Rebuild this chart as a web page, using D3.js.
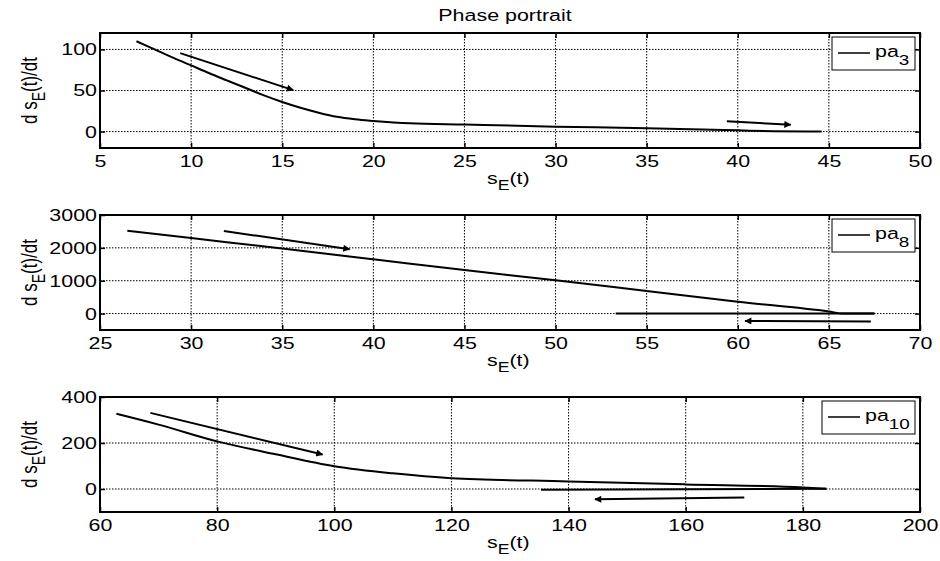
<!DOCTYPE html>
<html>
<head>
<meta charset="utf-8" />
<style>
  body { margin: 0; background: #fff; }
  svg text { font-family: Arial, "Liberation Sans", sans-serif; fill: #000; }
  .grid line { stroke: #000; stroke-width: 1; stroke-dasharray: 1.5 1.5; }
  .curve { fill: none; stroke: #000; stroke-width: 2; }
</style>
</head>
<body>
<div id="chart"></div>
<script src="https://cdn.jsdelivr.net/npm/d3@7"></script>
<script>
// panel 1 : pa3
var pa3X = [7, 8, 9, 10, 11, 12, 13, 14, 15, 16, 17, 18, 19, 20, 22, 25, 30, 35, 40, 42, 44.6];
var pa3Y = [110, 100, 90, 80.5, 71, 62, 53, 44, 36, 29, 23, 18, 15, 13, 10, 8.5, 6, 4, 1.5, 0.5, 0];
var pa3Arrows = [[[9.4, 95.5], [15.6, 50.5]], [[39.4, 12.5], [42.9, 8.2]]];
var pa3XTicks = [5, 10, 15, 20, 25, 30, 35, 40, 45, 50];
var pa3YTicks = [0, 50, 100];

// panel 2 : pa8
var pa8X = [26.5, 30, 35, 40, 45, 50, 55, 60, 65, 65.8, 67.5, 53.3];
var pa8Y = [2523, 2298, 1978, 1652, 1323, 1015, 686, 360, 62, 0, 0, 0];
var pa8Arrows = [[[31.8, 2513], [38.7, 1960]], [[67.3, -240], [60.4, -225]]];
var pa8XTicks = [25, 30, 35, 40, 45, 50, 55, 60, 65, 70];
var pa8YTicks = [0, 1000, 2000, 3000];

// panel 3 : pa10
var pa10X = [62.8, 70, 80, 90, 100, 110, 120, 140, 160, 180, 184, 135.3];
var pa10Y = [327, 280, 207, 151, 99, 68, 47, 33, 20, 7, 1, -3];
var pa10Arrows = [[[68.6, 331], [98, 150]], [[170, -37], [144.5, -45]]];
var pa10XTicks = [60, 80, 100, 120, 140, 160, 180, 200];
var pa10YTicks = [0, 200, 400];

var panels = [
  { xs: pa3X, ys: pa3Y, arrows: pa3Arrows, xd: [5, 50], yd: [-20, 120], xt: pa3XTicks, yt: pa3YTicks, top: 33, bottom: 148, sub: "3", legW: 83 },
  { xs: pa8X, ys: pa8Y, arrows: pa8Arrows, xd: [25, 70], yd: [-500, 3000], xt: pa8XTicks, yt: pa8YTicks, top: 215, bottom: 330, sub: "8", legW: 83 },
  { xs: pa10X, ys: pa10Y, arrows: pa10Arrows, xd: [60, 200], yd: [-100, 400], xt: pa10XTicks, yt: pa10YTicks, top: 397, bottom: 512, sub: "10", legW: 93 }
];

var width = 940, height = 561;
var left = 100, right = 920;
var S = 1.26; // the picture's text is stretched sideways

// squeeze x then stretch the glyphs so anchors stay in place
function stretch(sel) {
  sel.each(function() {
    var t = d3.select(this);
    var x0 = +(t.attr('x') || 0);
    t.attr('x', x0 / S);
    var tr = t.attr('transform') || '';
    t.attr('transform', tr + ' scale(' + S + ',1)');
  });
}

var svg = d3.select('#chart').append('svg')
  .attr('width', width)
  .attr('height', height);

svg.append('defs').append('marker')
  .attr('id', 'head')
  .attr('viewBox', '0 0 10 10')
  .attr('refX', 9).attr('refY', 5)
  .attr('markerWidth', 11).attr('markerHeight', 7)
  .attr('markerUnits', 'userSpaceOnUse')
  .attr('orient', 'auto')
  .append('path').attr('d', 'M0,0 L10,5 L0,10 Z').attr('fill', '#000');

svg.append('text')
  .attr('x', 505).attr('y', 21)
  .attr('text-anchor', 'middle')
  .style('font-size', '17px')
  .text('Phase portrait')
  .call(stretch);

panels.forEach(function(p) {
  var x = d3.scaleLinear().domain(p.xd).range([left, right]);
  var y = d3.scaleLinear().domain(p.yd).range([p.bottom, p.top]);
  var g = svg.append('g');

  // grid
  var grid = g.append('g').attr('class', 'grid');
  grid.selectAll('.gx').data(p.xt.slice(1, -1)).enter().append('line')
    .attr('x1', function(d) { return x(d); }).attr('x2', function(d) { return x(d); })
    .attr('y1', p.top).attr('y2', p.bottom);
  grid.selectAll('.gy').data(p.yt.filter(function(d) { return y(d) > p.top + 1; })).enter().append('line')
    .attr('x1', left).attr('x2', right)
    .attr('y1', function(d) { return y(d); }).attr('y2', function(d) { return y(d); });

  // axes, ticks inward on all sides
  var ax = g.append('g').attr('transform', 'translate(0,' + p.bottom + ')')
    .call(d3.axisBottom(x).tickValues(p.xt).tickSize(-5).tickPadding(7).tickSizeOuter(0).tickFormat(d3.format('d')));
  var axT = g.append('g').attr('transform', 'translate(0,' + p.top + ')')
    .call(d3.axisTop(x).tickValues(p.xt).tickSize(-5).tickFormat('').tickSizeOuter(0));
  var ay = g.append('g').attr('transform', 'translate(' + left + ',0)')
    .call(d3.axisLeft(y).tickValues(p.yt).tickSize(-5).tickPadding(3).tickSizeOuter(0).tickFormat(d3.format('d')));
  var ayR = g.append('g').attr('transform', 'translate(' + right + ',0)')
    .call(d3.axisRight(y).tickValues(p.yt).tickSize(-5).tickFormat('').tickSizeOuter(0));
  [ax, axT, ay, ayR].forEach(function(a) {
    a.select('.domain').remove();
    a.selectAll('line').attr('stroke', '#000').attr('stroke-width', 1.5);
    a.selectAll('text').style('font-size', '17px').attr('fill', '#000')
      .attr('font-family', 'Arial, "Liberation Sans", sans-serif')
      .call(stretch);
  });

  g.append('rect')
    .attr('x', left).attr('y', p.top)
    .attr('width', right - left).attr('height', p.bottom - p.top)
    .attr('fill', 'none').attr('stroke', '#000').attr('stroke-width', 2);

  // trajectory: forward part smooth, return leg straight
  var line = d3.line()
    .x(function(d) { return x(d[0]); })
    .y(function(d) { return y(d[1]); })
    .curve(d3.curveMonotoneX);
  var pts = p.xs.map(function(v, i) { return [v, p.ys[i]]; });
  var fwd = [], back = [];
  var turned = false;
  pts.forEach(function(pt, i) {
    if (!turned && i > 0 && pt[0] < pts[i - 1][0]) { turned = true; back.push(pts[i - 1]); }
    if (turned) back.push(pt); else fwd.push(pt);
  });
  g.append('path').attr('class', 'curve').attr('d', line(fwd));
  if (back.length) {
    g.append('path').attr('class', 'curve')
      .attr('d', d3.line().x(function(d) { return x(d[0]); }).y(function(d) { return y(d[1]); })(back));
  }

  // arrows
  g.selectAll('.arrow').data(p.arrows).enter().append('line')
    .attr('x1', function(d) { return x(d[0][0]); })
    .attr('y1', function(d) { return y(d[0][1]); })
    .attr('x2', function(d) { return x(d[1][0]); })
    .attr('y2', function(d) { return y(d[1][1]); })
    .attr('stroke', '#000').attr('stroke-width', 2)
    .attr('marker-end', 'url(#head)');

  // legend
  var lx = 915 - p.legW, ly = p.top + 4;
  var leg = g.append('g').attr('transform', 'translate(' + lx + ',' + ly + ')');
  leg.append('rect').attr('width', p.legW).attr('height', 33)
    .attr('fill', '#fff').attr('stroke', '#000').attr('stroke-width', 1);
  leg.append('line').attr('x1', 6).attr('x2', 38).attr('y1', 16).attr('y2', 16)
    .attr('stroke', '#000').attr('stroke-width', 1.5);
  var lt = leg.append('text').attr('x', 43).attr('y', 20).style('font-size', '17px');
  lt.append('tspan').text('pa');
  lt.append('tspan').attr('dy', 8).style('font-size', '15px').text(p.sub);
  lt.call(stretch);

  // x label
  var xl = g.append('text').attr('x', 487).attr('y', p.bottom + 36).style('font-size', '17px');
  xl.append('tspan').text('s');
  xl.append('tspan').attr('dy', 6).style('font-size', '14px').text('E');
  xl.append('tspan').attr('dy', -6).text('(t)');
  xl.call(stretch);

  // y label
  var yl = g.append('text')
    .attr('transform', 'translate(37,' + ((p.top + p.bottom) / 2) + ') scale(' + S + ',1) rotate(-90)')
    .attr('text-anchor', 'middle').style('font-size', '17px');
  yl.append('tspan').text('d s');
  yl.append('tspan').attr('dy', 6).style('font-size', '14px').text('E');
  yl.append('tspan').attr('dy', -6).text('(t)/dt');
});
</script>
</body>
</html>
